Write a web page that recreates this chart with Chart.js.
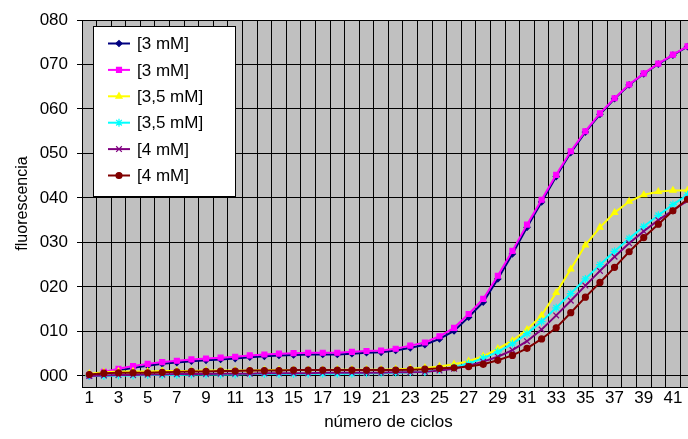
<!DOCTYPE html>
<html>
<head>
<meta charset="utf-8">
<title>fluorescencia / número de ciclos</title>
<script src="https://cdn.jsdelivr.net/npm/chart.js"></script>
<style>
    html, body {
        margin: 0;
        padding: 0;
        background: #fff;
        overflow: hidden;
    }
    #wrap {
        width: 688px;
        height: 439px;
        overflow: hidden;
    }
</style>
</head>
<body>
<div id="wrap"><canvas id="qpcrChart" width="700" height="439"></canvas></div>

<script>
    // cycle numbers (x categories)
    const cycles = [1, 2, 3, 4, 5, 6, 7, 8, 9, 10, 11, 12, 13, 14, 15, 16, 17, 18, 19, 20, 21,
        22, 23, 24, 25, 26, 27, 28, 29, 30, 31, 32, 33, 34, 35, 36, 37, 38, 39, 40, 41, 42];

    const seriesLabels = ['[3 mM]', '[3 mM]', '[3,5 mM]', '[3,5 mM]', '[4 mM]', '[4 mM]'];

    // fluorescence, one array per curve
    const mg3a = [0.0, 0.6, 1.2, 1.8, 2.3, 2.7, 3.0, 3.3, 3.5, 3.7, 3.9, 4.2, 4.4, 4.6, 4.7, 4.8, 4.8, 4.8, 5.0, 5.2,
        5.3, 5.7, 6.3, 7.0, 8.3, 10.1, 13.2, 16.6, 21.8, 27.4, 33.4, 39.1, 44.8, 50.2, 54.8, 58.8, 62.3, 65.4, 67.9, 70.1, 72.1, 74.0];
    const mg3b = [0.1, 0.9, 1.6, 2.2, 2.7, 3.1, 3.4, 3.7, 3.9, 4.1, 4.3, 4.6, 4.8, 5.0, 5.1, 5.2, 5.2, 5.2, 5.4, 5.6,
        5.7, 6.1, 6.8, 7.5, 8.9, 10.8, 13.9, 17.3, 22.5, 28.1, 34.0, 39.6, 45.2, 50.5, 55.0, 59.0, 62.4, 65.5, 68.0, 70.2, 72.2, 74.1];
    const mg35a = [0.5, 0.8, 1.0, 1.0, 1.0, 1.1, 1.1, 1.1, 1.2, 1.2, 1.2, 1.2, 1.3, 1.3, 1.3, 1.3, 1.3, 1.4, 1.4, 1.4,
        1.4, 1.5, 1.6, 1.8, 2.1, 2.6, 3.3, 4.4, 6.1, 7.9, 10.4, 13.6, 18.7, 24.0, 29.4, 33.4, 36.7, 39.2, 40.7, 41.4, 41.7, 41.7];
    const mg35b = [0.0, 0.0, 0.1, 0.1, 0.2, 0.2, 0.2, 0.3, 0.3, 0.3, 0.3, 0.4, 0.4, 0.4, 0.4, 0.5, 0.5, 0.5, 0.5, 0.6,
        0.6, 0.7, 0.8, 0.9, 1.3, 1.9, 2.8, 4.0, 5.4, 7.2, 9.5, 12.2, 15.3, 18.5, 21.8, 25.0, 28.0, 30.9, 33.6, 36.1, 38.5, 40.7];
    const mg4a = [0.0, 0.1, 0.2, 0.2, 0.3, 0.3, 0.4, 0.4, 0.4, 0.5, 0.5, 0.5, 0.6, 0.6, 0.6, 0.6, 0.7, 0.7, 0.7, 0.7,
        0.7, 0.8, 0.8, 0.9, 1.2, 1.6, 2.3, 3.2, 4.3, 5.8, 7.8, 10.4, 13.6, 16.9, 20.3, 23.6, 26.8, 29.8, 32.5, 35.0, 37.2, 39.4];
    const mg4b = [0.3, 0.6, 0.7, 0.7, 0.7, 0.8, 0.9, 1.0, 1.0, 1.1, 1.1, 1.2, 1.2, 1.2, 1.3, 1.3, 1.3, 1.3, 1.3, 1.3,
        1.3, 1.3, 1.4, 1.5, 1.7, 1.8, 2.1, 2.6, 3.5, 4.6, 6.2, 8.3, 10.8, 14.2, 17.7, 21.0, 24.4, 27.9, 31.1, 34.1, 37.1, 39.7];

    const FONT = 'Arial, "Liberation Sans", sans-serif';

    function makeSet(i, data, color, style, radius) {
        return {
            label: seriesLabels[i],
            data: data,
            borderColor: color,
            backgroundColor: color,
            borderWidth: 2,
            pointStyle: style,
            pointRadius: radius,
            pointBackgroundColor: color,
            pointBorderColor: color,
            pointBorderWidth: 1.2,
            tension: 0,
            order: 10 - i   // later series sit on top, like the original
        };
    }

    // grey plot area
    const plotBg = {
        id: 'plotBg',
        beforeDraw(chart) {
            const { ctx, chartArea: a } = chart;
            ctx.save();
            ctx.fillStyle = '#c0c0c0';
            ctx.fillRect(a.left, a.top, a.right - a.left, a.bottom - a.top);
            ctx.restore();
        }
    };

    // boxed legend inside the plot, top left
    const boxLegend = {
        id: 'boxLegend',
        afterDatasetsDraw(chart) {
            const ctx = chart.ctx;
            ctx.save();
            ctx.fillStyle = '#fff';
            ctx.fillRect(93.5, 26.5, 142, 170);
            ctx.strokeStyle = '#000';
            ctx.lineWidth = 1;
            ctx.strokeRect(93.5, 26.5, 142, 170);
            chart.data.datasets.forEach((ds, i) => {
                const y = 43.5 + i * 26.4;
                ctx.strokeStyle = ds.borderColor;
                ctx.lineWidth = 2;
                ctx.beginPath();
                ctx.moveTo(108, y);
                ctx.lineTo(130, y);
                ctx.stroke();
                ctx.fillStyle = ds.pointBackgroundColor;
                ctx.strokeStyle = ds.pointBorderColor;
                ctx.lineWidth = 1.2;
                Chart.helpers.drawPoint(ctx, {
                    pointStyle: ds.pointStyle,
                    radius: ds.pointRadius,
                    borderWidth: 1.2,
                    rotation: 0
                }, 119, y);
                ctx.fillStyle = '#000';
                ctx.font = '17px ' + FONT;
                ctx.textBaseline = 'middle';
                ctx.textAlign = 'left';
                ctx.fillText(ds.label, 137, y + 1);
            });
            ctx.restore();
        }
    };

    const ctxQ = document.getElementById('qpcrChart').getContext('2d');
    const qpcrChart = new Chart(ctxQ, {
        type: 'line',
        data: {
            labels: cycles,
            datasets: [
                makeSet(0, mg3a, '#000080', 'rectRot', 3),
                makeSet(1, mg3b, '#ff00ff', 'rect', 3.5),
                makeSet(2, mg35a, '#ffff00', 'triangle', 3.5),
                makeSet(3, mg35b, '#00ffff', 'star', 4),
                makeSet(4, mg4a, '#800080', 'crossRot', 4),
                makeSet(5, mg4b, '#800000', 'circle', 3)
            ]
        },
        options: {
            responsive: false,
            animation: false,
            devicePixelRatio: 1,
            layout: {
                padding: { left: 0, right: 4.8, top: 20, bottom: 0 }
            },
            plugins: {
                legend: { display: false },
                tooltip: { enabled: false }
            },
            scales: {
                x: {
                    type: 'category',
                    offset: true,
                    grid: {
                        offset: true,
                        color: '#000',
                        lineWidth: 1,
                        drawTicks: false
                    },
                    border: { color: '#000', width: 1 },
                    ticks: {
                        autoSkip: false,
                        maxRotation: 0,
                        minRotation: 0,
                        padding: 1,
                        color: '#000',
                        font: { family: FONT, size: 17 },
                        callback: (val, idx) => idx % 2 === 0 ? String(cycles[idx]) : ''
                    },
                    title: {
                        display: true,
                        text: 'número de ciclos',
                        color: '#000',
                        font: { family: FONT, size: 17 },
                        padding: { top: 0, bottom: 6 }
                    },
                    afterFit: s => { s.height = 52; }
                },
                y: {
                    min: -2.5,
                    max: 80,
                    grid: {
                        color: '#000',
                        lineWidth: 1,
                        tickLength: 5
                    },
                    border: { color: '#000', width: 1 },
                    ticks: {
                        stepSize: 10,
                        includeBounds: false,
                        padding: 9,
                        color: '#000',
                        font: { family: FONT, size: 17 },
                        callback: v => String(v).padStart(3, '0')
                    },
                    afterBuildTicks: s => {
                        s.ticks = s.ticks.filter(t => t.value >= 0);
                    },
                    title: {
                        display: true,
                        text: 'fluorescencia',
                        color: '#000',
                        font: { family: FONT, size: 16 },
                        padding: { top: 13, bottom: 0 }
                    },
                    afterFit: s => { s.width = 82; }
                }
            }
        },
        plugins: [plotBg, boxLegend]
    });
</script>
</body>
</html>
